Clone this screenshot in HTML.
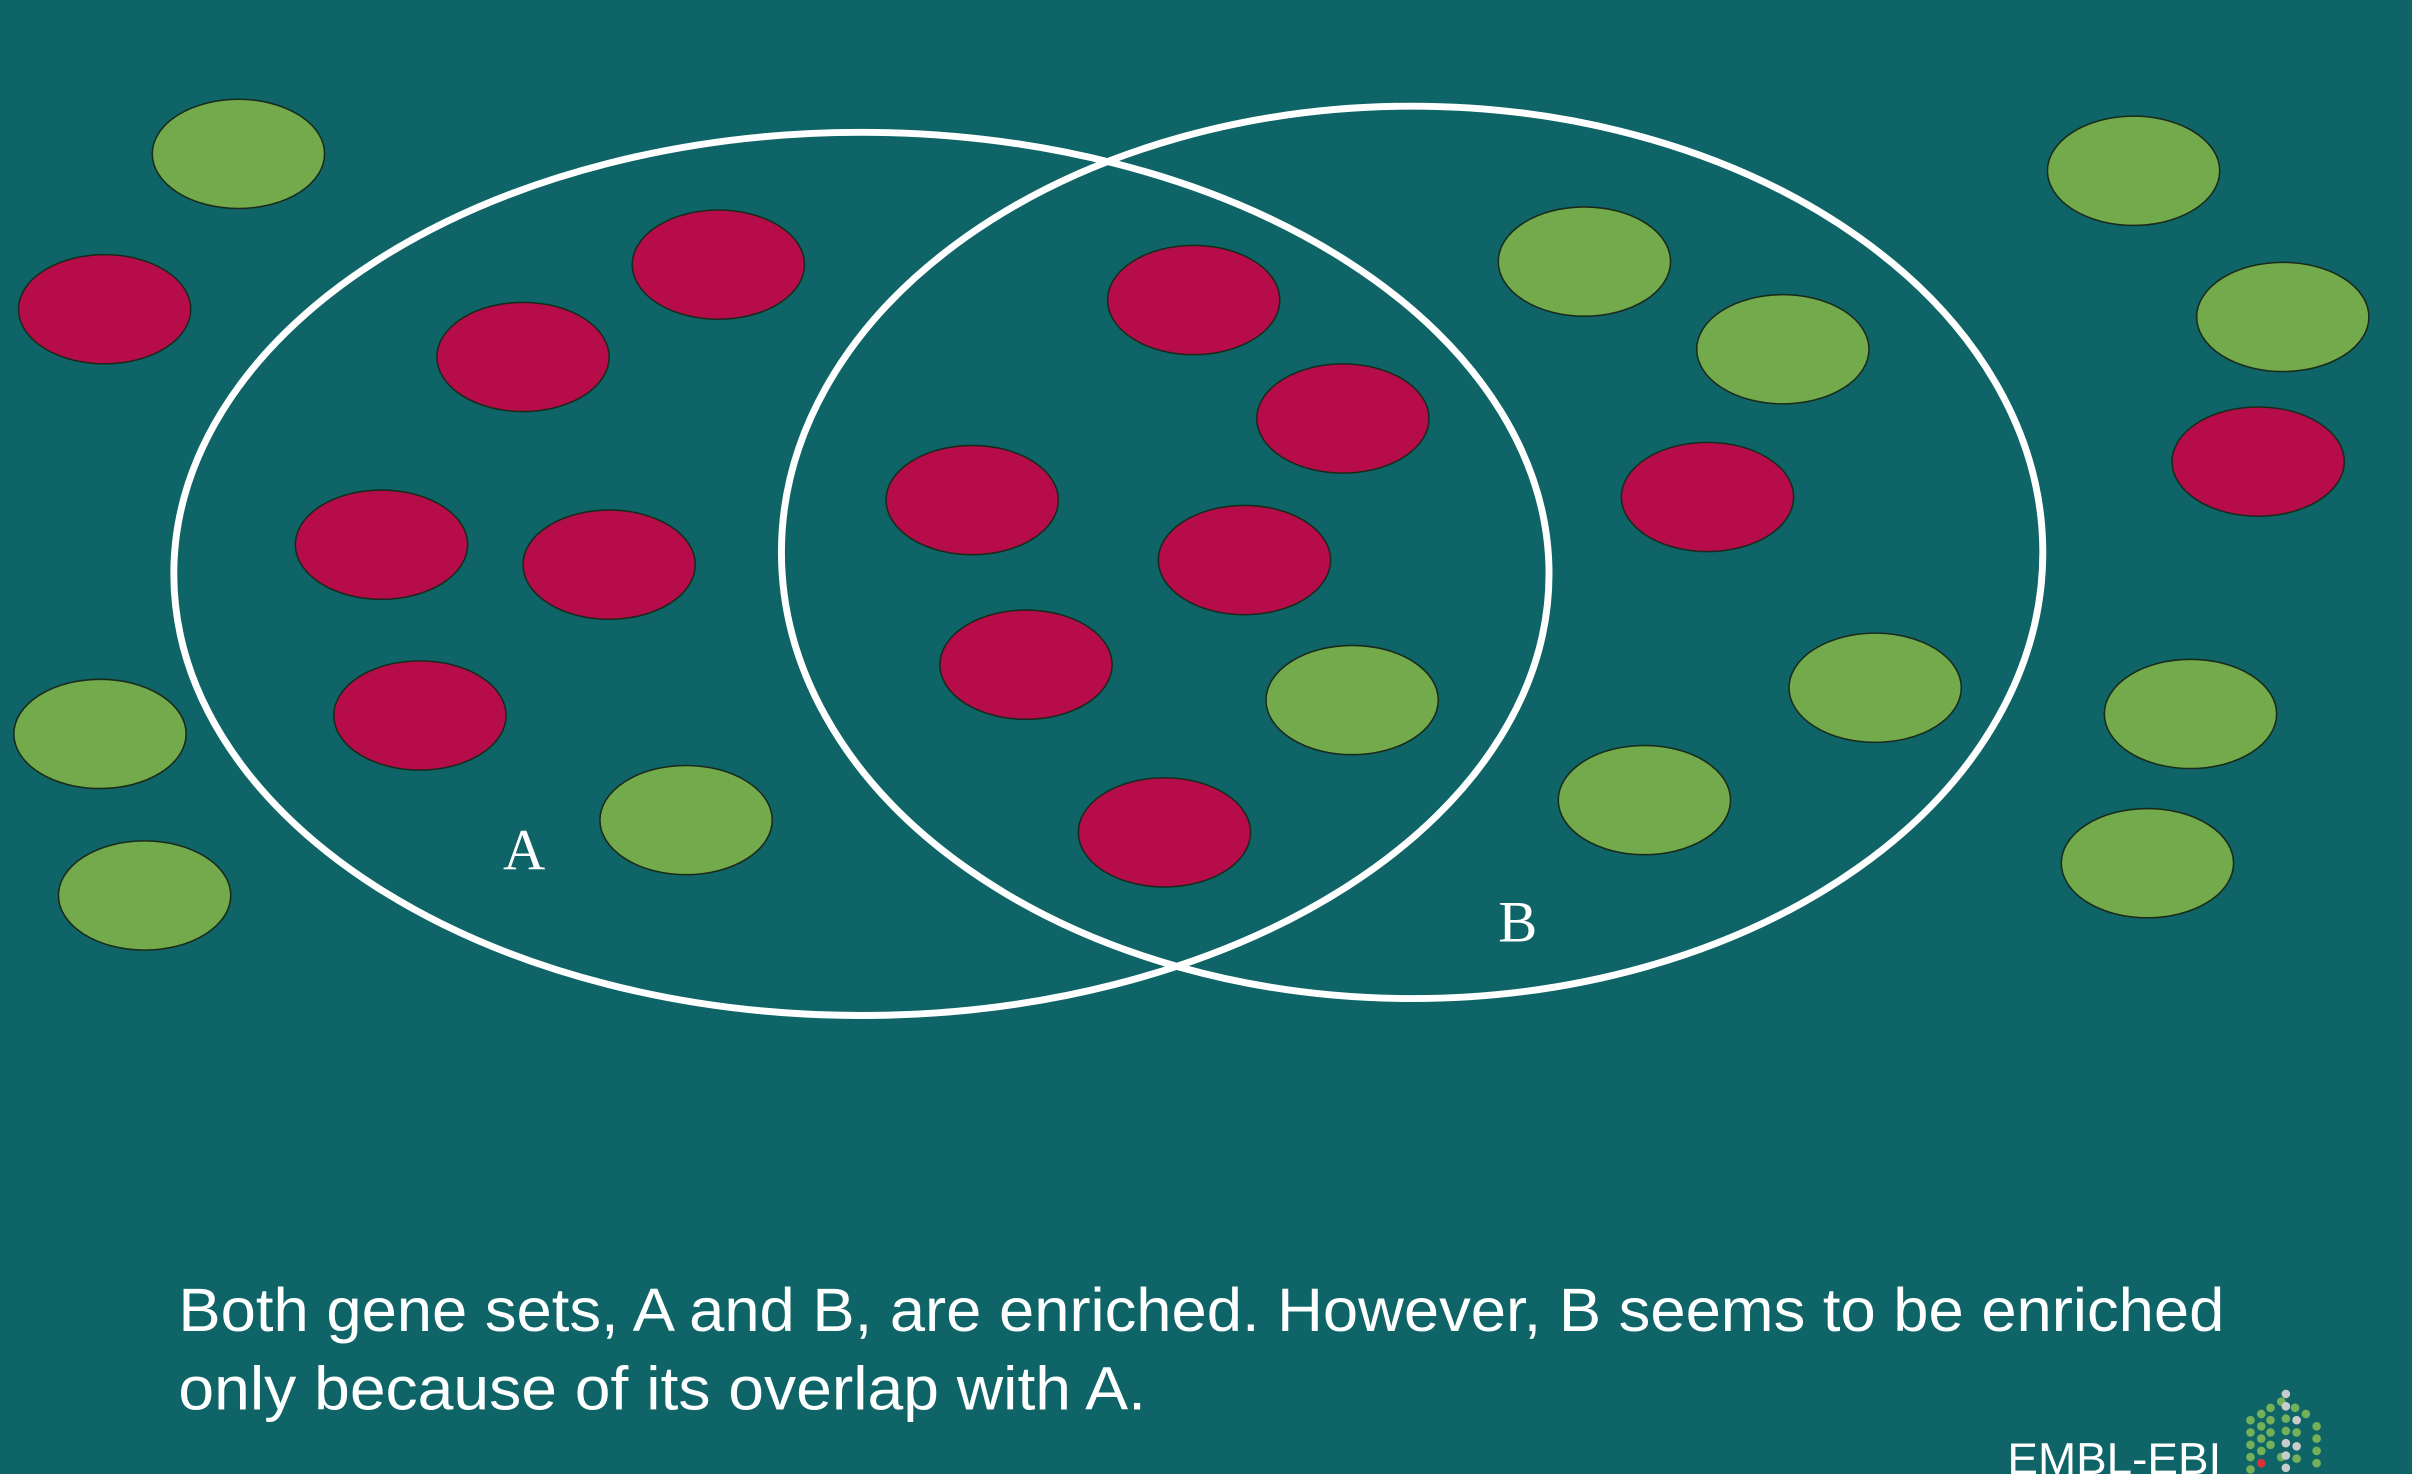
<!DOCTYPE html>
<html><head><meta charset="utf-8"><style>
html,body{margin:0;padding:0;background:#0e6466;}
svg{display:block}
</style></head><body>
<svg width="2412" height="1474" viewBox="0 0 1568 958" preserveAspectRatio="none" xmlns="http://www.w3.org/2000/svg">
<rect x="0" y="0" width="1568" height="958" fill="#0e6466"/>
<g id="genes"></g>
<ellipse cx="560" cy="373" rx="447" ry="287" fill="none" stroke="#fff" stroke-width="4.5"/>
<ellipse cx="918" cy="359" rx="410" ry="290" fill="none" stroke="#fff" stroke-width="4.5"/>
<text x="327" y="565" fill="#fff" font-family="Liberation Serif, serif" font-size="38">A</text>
<text x="974" y="612" fill="#fff" font-family="Liberation Serif, serif" font-size="38">B</text>
<text x="116" y="865" fill="#fff" font-family="Liberation Sans, sans-serif" font-size="40" textLength="1330" lengthAdjust="spacingAndGlyphs">Both gene sets, A and B, are enriched. However, B seems to be enriched</text>
<text x="116" y="916" fill="#fff" font-family="Liberation Sans, sans-serif" font-size="40" textLength="629" lengthAdjust="spacingAndGlyphs">only because of its overlap with A.</text>
<text x="1305" y="958" fill="#fff" font-family="Liberation Sans, sans-serif" font-size="29" textLength="139" lengthAdjust="spacingAndGlyphs">EMBL-EBI</text>
<g id="logo"></g>
</svg>
<script>
const geneX = [155,1030,1159,1387,1484,65,94,446,879,1219,1069,1424,1396, 68,467,340,248,396,273,776,873,632,809,667,757,1110,1468];
const geneY = [100,170,227,111,206,477,582,533,455,447,520,464,561, 201,172,232,354,367,465,195,272,325,364,432,541,323,300];
const geneType = ['g','g','g','g','g','g','g','g','g','g','g','g','g','r','r','r','r','r','r','r','r','r','r','r','r','r','r'];
const NS='http://www.w3.org/2000/svg';
const gg=document.getElementById('genes');
for(let i=0;i<geneX.length;i++){
  const e=document.createElementNS(NS,'ellipse');
  e.setAttribute('cx',geneX[i]);e.setAttribute('cy',geneY[i]);
  e.setAttribute('rx',56);e.setAttribute('ry',35.5);
  e.setAttribute('fill',geneType[i]==='g'?'#73aa4c':'#b60c4a');
  e.setAttribute('stroke','#1a2a1a');e.setAttribute('stroke-width','1');
  
  
  gg.appendChild(e);
}
const lg=document.getElementById('logo');
const dots=[[1457,923,'g'],[1457,931,'g'],[1457,939,'g'],[1457,947,'g'],[1457,955,'g'],[1464,919,'g'],[1464,927,'g'],[1464,935,'g'],[1464,943,'g'],[1464,951,'r'],[1470,915,'g'],[1470,923,'g'],[1470,931,'g'],[1470,939,'g'],[1477,911,'g'],[1477,947,'g'],[1480,906,'s'],[1480,914,'s'],[1480,922,'g'],[1480,930,'g'],[1480,938,'s'],[1480,946,'s'],[1480,954,'s'],[1486,915,'g'],[1487,923,'s'],[1487,931,'g'],[1487,940,'s'],[1487,948,'g'],[1493,919,'g'],[1500,927,'g'],[1500,935,'g'],[1500,943,'g'],[1500,951,'g']];
for(const d of dots){
  const c=document.createElementNS(NS,'circle');
  c.setAttribute('cx',d[0]+6);c.setAttribute('cy',d[1]);c.setAttribute('r',2.8);
  c.setAttribute('fill',d[2]==='g'?'#74b05a':d[2]==='r'?'#d8323a':'#c8cccc');
  
  
  lg.appendChild(c);
}
</script>
</body></html>
